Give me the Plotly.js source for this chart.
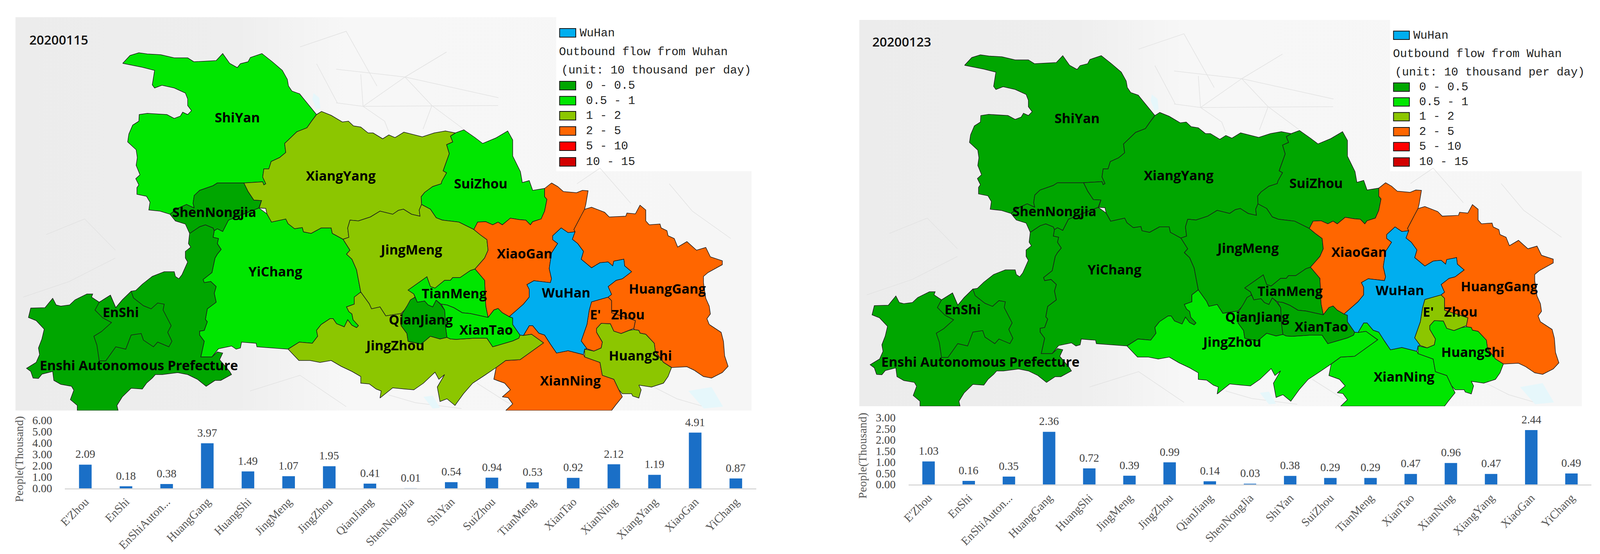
<!DOCTYPE html>
<html>
<head>
<meta charset="utf-8">
<script src="https://cdn.plot.ly/plotly-3.0.1.min.js"></script>
<style>html,body{margin:0;padding:0;background:#fff;overflow:hidden}</style>
</head>
<body>
<div id="chart"></div>
<script>
// bar values, people (thousand) per city
var barNames = ["E'Zhou", "EnShi", "EnShiAuton...", "HuangGang", "HuangShi", "JingMeng", "JingZhou", "QianJiang",
    "ShenNongJia", "ShiYan", "SuiZhou", "TianMeng", "XianTao", "XianNing", "XiangYang", "XiaoGan", "YiChang"];
var flow0115 = [2.09, 0.18, 0.38, 3.97, 1.49, 1.07, 1.95, 0.41, 0.01, 0.54, 0.94, 0.53, 0.92, 2.12, 1.19, 4.91, 0.87];
var flow0123 = [1.03, 0.16, 0.35, 2.36, 0.72, 0.39, 0.99, 0.14, 0.03, 0.38, 0.29, 0.29, 0.47, 0.96, 0.47, 2.44, 0.49];

// flow classes of the map legend
var classNames = ["0 - 0.5", "0.5 - 1", "1 - 2", "2 - 5", "5 - 10", "10 - 15"];
var classTops = [0.5, 1, 2, 5, 10, 15];
var classColors = ["#00a600", "#00e600", "#8cc600", "#ff6600", "#ff0000", "#d20000"];
var wuhanColor = "#00aeef";

// prefecture outlines, in map units
var shiYan = [[319,162],[338,142],[361,135],[383,138],[418,140],[453,148],[488,148],[504,158],[562,155],[579,137],[597,162],[617,173],[625,163],[645,158],[651,147],[681,137],[708,158],[734,180],[747,203],[750,220],[759,233],[779,240],[798,263],[823,293],[810,310],[798,327],[772,337],[740,367],[743,390],[727,403],[705,413],[699,432],[686,432],[683,453],[691,470],[686,473],[683,465],[634,468],[565,468],[554,475],[519,487],[505,500],[502,520],[505,532],[485,523],[462,533],[442,548],[416,540],[387,537],[390,517],[381,502],[356,497],[356,480],[361,473],[353,457],[364,447],[354,423],[357,403],[354,383],[332,363],[335,343],[345,320],[361,310],[362,293],[383,290],[434,293],[453,303],[469,297],[475,287],[488,293],[498,283],[488,270],[488,253],[482,238],[453,225],[421,218],[402,225],[396,217],[402,180],[370,172]];
var xiangYang = [[823,293],[836,285],[861,295],[890,312],[906,310],[919,322],[938,325],[957,340],[970,340],[995,355],[1011,345],[1027,352],[1050,338],[1098,350],[1129,340],[1158,335],[1184,340],[1171,348],[1177,363],[1161,370],[1168,393],[1152,437],[1161,442],[1149,463],[1147,470],[1125,477],[1104,492],[1095,503],[1096,523],[1090,537],[1092,553],[1070,548],[1049,535],[1036,538],[1021,548],[988,540],[963,555],[932,565],[910,563],[904,583],[907,607],[892,612],[864,597],[861,583],[835,583],[809,597],[789,593],[786,582],[766,585],[749,572],[743,560],[706,568],[694,547],[691,533],[674,532],[680,513],[660,512],[645,490],[634,468],[683,465],[686,473],[691,470],[683,453],[686,432],[699,432],[705,413],[727,403],[743,390],[740,367],[772,337],[798,327],[810,310]];
var suiZhou = [[1096,523],[1095,503],[1104,492],[1125,477],[1147,470],[1149,463],[1161,442],[1152,437],[1168,393],[1161,370],[1177,363],[1171,348],[1184,340],[1206,332],[1235,352],[1255,367],[1289,353],[1320,335],[1333,358],[1333,399],[1353,439],[1358,467],[1376,462],[1385,487],[1416,482],[1416,503],[1422,510],[1416,540],[1407,560],[1385,567],[1379,575],[1367,563],[1352,562],[1327,558],[1306,575],[1295,568],[1281,575],[1263,567],[1242,568],[1232,587],[1193,568],[1150,563],[1134,557],[1119,535]];
var shenNongjia = [[634,468],[565,468],[554,475],[519,487],[505,500],[502,520],[505,532],[485,523],[462,533],[442,548],[456,565],[482,573],[493,597],[519,580],[534,575],[554,583],[557,590],[565,585],[579,592],[594,563],[634,547],[673,532],[680,513],[660,512],[645,490]];
var yiChang = [[594,563],[634,547],[673,532],[694,547],[706,568],[743,560],[749,572],[766,585],[786,582],[789,593],[809,597],[835,583],[861,583],[864,597],[892,612],[910,640],[901,650],[915,663],[927,690],[938,747],[921,760],[921,778],[901,785],[907,797],[915,803],[918,818],[932,833],[927,838],[915,832],[904,818],[895,836],[875,828],[866,815],[858,815],[835,830],[823,845],[826,860],[812,878],[778,875],[749,893],[668,887],[666,878],[628,875],[625,890],[614,893],[602,885],[568,892],[551,913],[522,913],[525,900],[531,873],[519,857],[519,847],[531,845],[539,823],[534,817],[539,790],[562,773],[557,750],[562,733],[548,720],[531,723],[528,715],[551,697],[559,660],[565,650],[575,638],[565,623],[568,610],[554,607],[557,590],[565,585],[579,592]];
var enshiPref = [[493,597],[519,580],[534,575],[554,583],[557,590],[554,607],[568,610],[565,623],[575,638],[565,650],[559,660],[551,697],[528,715],[531,723],[548,720],[562,733],[557,750],[562,773],[539,790],[534,817],[539,823],[531,845],[519,847],[519,857],[531,873],[525,900],[522,913],[551,913],[565,900],[579,903],[571,920],[597,950],[602,958],[574,973],[559,973],[536,988],[513,970],[488,958],[462,953],[422,958],[404,958],[396,967],[381,980],[370,995],[341,993],[318,1015],[304,1037],[307,1050],[201,1050],[201,1037],[183,1022],[192,998],[186,988],[158,983],[140,973],[137,950],[109,957],[100,968],[86,967],[80,950],[69,942],[94,927],[103,907],[100,890],[109,867],[115,842],[94,820],[74,812],[80,788],[117,787],[129,772],[137,763],[146,780],[158,783],[181,780],[195,767],[226,752],[241,752],[238,760],[258,773],[287,755],[301,787],[318,767],[341,745],[353,743],[370,727],[396,707],[427,695],[442,695],[453,695],[456,707],[465,713],[473,703],[488,670],[482,660],[482,643],[496,632],[490,623]];
var enShi = [[258,773],[247,793],[267,813],[290,825],[264,848],[244,860],[252,883],[258,923],[275,923],[301,887],[327,893],[341,857],[367,853],[373,870],[399,887],[410,875],[439,887],[447,873],[436,850],[445,833],[424,793],[427,778],[410,775],[393,790],[373,782],[347,762],[341,745],[318,767],[301,787],[287,755]];
var jingMeng = [[1096,523],[1119,535],[1134,557],[1150,563],[1193,568],[1232,587],[1248,600],[1266,613],[1269,640],[1260,660],[1235,688],[1223,692],[1196,710],[1177,710],[1171,717],[1156,717],[1131,737],[1119,733],[1110,708],[1061,742],[1076,752],[1079,760],[1061,783],[1043,802],[1003,808],[988,785],[966,790],[960,777],[938,747],[927,690],[915,663],[901,650],[910,640],[892,612],[907,607],[904,583],[910,563],[932,565],[963,555],[988,540],[1021,548],[1036,538],[1049,535],[1070,548],[1092,553],[1090,537]];
var jingZhou = [[749,893],[777,922],[806,922],[832,927],[861,922],[887,937],[915,950],[938,963],[938,980],[960,982],[978,995],[991,1000],[988,1018],[1021,992],[1052,995],[1076,997],[1101,980],[1131,952],[1141,970],[1156,958],[1137,990],[1144,1027],[1162,1020],[1183,1037],[1205,1007],[1229,980],[1260,960],[1290,940],[1315,922],[1352,920],[1413,877],[1382,855],[1361,858],[1352,857],[1349,865],[1333,872],[1281,887],[1266,865],[1232,865],[1186,868],[1171,867],[1162,863],[1144,867],[1119,860],[1095,880],[1061,873],[1058,853],[1043,833],[1046,802],[1043,802],[1003,808],[988,785],[966,790],[960,777],[938,747],[921,760],[921,778],[901,785],[907,797],[915,803],[918,818],[932,833],[927,838],[915,832],[904,818],[895,836],[875,828],[866,815],[858,815],[835,830],[823,845],[826,860],[812,878],[778,875]];
var qianJiang = [[1079,760],[1067,767],[1058,783],[1046,802],[1043,833],[1058,853],[1061,873],[1095,880],[1119,860],[1144,867],[1162,863],[1159,840],[1156,793],[1144,777],[1134,768],[1125,785],[1113,780],[1104,770],[1085,773]];
var tianMen = [[1061,742],[1110,708],[1119,733],[1131,737],[1156,717],[1171,717],[1177,710],[1196,710],[1223,692],[1235,688],[1260,717],[1263,783],[1269,812],[1223,802],[1202,800],[1180,787],[1162,780],[1147,778],[1134,768],[1125,785],[1113,780],[1104,770],[1085,773],[1079,760],[1076,752]];
var xianTao = [[1147,778],[1162,780],[1180,787],[1202,800],[1223,802],[1269,812],[1284,793],[1295,789],[1306,800],[1324,810],[1333,813],[1333,830],[1352,857],[1349,865],[1333,872],[1281,887],[1266,865],[1232,865],[1186,868],[1171,867],[1162,863],[1159,840],[1156,793]];
var xiaoGan = [[1434,468],[1450,477],[1465,490],[1499,493],[1514,487],[1529,488],[1523,523],[1520,535],[1508,557],[1492,587],[1495,593],[1477,595],[1459,583],[1437,603],[1437,613],[1450,623],[1434,647],[1428,687],[1434,713],[1431,723],[1388,718],[1370,728],[1376,740],[1376,760],[1361,778],[1324,810],[1306,800],[1295,789],[1284,793],[1269,812],[1263,783],[1260,717],[1235,688],[1260,660],[1269,640],[1266,613],[1248,600],[1232,587],[1242,568],[1263,567],[1281,575],[1295,568],[1306,575],[1327,558],[1352,562],[1367,563],[1379,575],[1385,567],[1407,560],[1416,540],[1422,510],[1416,503],[1416,482]];
var huangGang = [[1514,537],[1538,530],[1572,543],[1584,555],[1627,553],[1630,545],[1652,547],[1664,525],[1679,537],[1679,565],[1688,575],[1716,573],[1719,583],[1734,590],[1737,603],[1753,610],[1762,632],[1786,618],[1811,640],[1835,633],[1847,657],[1878,667],[1878,677],[1841,697],[1829,707],[1829,723],[1835,763],[1844,783],[1847,803],[1838,815],[1844,830],[1875,850],[1881,873],[1884,910],[1893,937],[1878,953],[1850,967],[1829,963],[1805,947],[1786,938],[1746,940],[1725,927],[1704,900],[1701,878],[1679,855],[1664,852],[1661,845],[1648,843],[1648,840],[1652,820],[1590,800],[1590,769],[1581,760],[1590,753],[1581,733],[1602,717],[1618,713],[1642,695],[1624,680],[1622,663],[1596,668],[1593,680],[1581,670],[1560,672],[1538,685],[1511,663],[1517,643],[1502,623],[1488,612],[1495,593],[1492,587],[1508,557]];
var eZhou = [[1581,760],[1538,772],[1532,793],[1526,830],[1511,872],[1526,892],[1544,898],[1563,890],[1566,875],[1551,850],[1551,840],[1563,827],[1587,828],[1596,847],[1615,853],[1636,845],[1648,840],[1652,820],[1590,800],[1590,769]];
var huangShi = [[1563,827],[1587,828],[1596,847],[1615,853],[1636,845],[1648,843],[1661,845],[1664,852],[1679,855],[1701,878],[1704,900],[1725,927],[1746,940],[1737,963],[1725,980],[1694,990],[1661,985],[1667,997],[1661,1018],[1645,1013],[1642,1007],[1618,1007],[1609,997],[1596,970],[1566,960],[1560,927],[1520,913],[1520,893],[1544,898],[1563,890],[1566,875],[1551,850],[1551,840]];
var xianNing = [[1376,833],[1385,833],[1401,852],[1416,857],[1431,880],[1447,903],[1477,897],[1517,907],[1520,913],[1560,927],[1566,960],[1596,970],[1609,997],[1618,1015],[1600,1037],[1590,1050],[1315,1050],[1333,1033],[1321,1017],[1306,1015],[1327,997],[1312,980],[1284,970],[1290,940],[1315,922],[1352,920],[1413,877],[1382,855],[1361,858]];
var wuHan = [[1459,583],[1477,595],[1495,593],[1488,612],[1502,623],[1517,643],[1511,663],[1538,685],[1560,672],[1581,670],[1593,680],[1596,668],[1622,663],[1624,680],[1642,695],[1618,713],[1602,717],[1581,733],[1590,753],[1581,760],[1538,772],[1532,793],[1526,830],[1511,872],[1526,892],[1520,893],[1517,907],[1477,897],[1447,903],[1431,880],[1416,857],[1401,852],[1385,833],[1376,833],[1361,858],[1352,857],[1333,830],[1333,813],[1324,810],[1361,778],[1376,760],[1376,740],[1370,728],[1388,718],[1431,723],[1434,713],[1428,687],[1434,647],[1450,623],[1437,613],[1437,603]];

// painted in this order; index points into the bar arrays, -1 is Wuhan itself
var mapRegions = [
    [shiYan, 9], [suiZhou, 10], [yiChang, 16], [enshiPref, 2], [enShi, 1], [xiangYang, 14], [shenNongjia, 8],
    [jingMeng, 5], [huangGang, 3], [xiaoGan, 15], [xianNing, 13], [huangShi, 4], [jingZhou, 6], [tianMen, 11],
    [xianTao, 12], [qianJiang, 7], [eZhou, 0], [wuHan, -1]
];

// names printed on the map
var placeNames = ["ShiYan", "XiangYang", "SuiZhou", "ShenNongjia", "YiChang", "JingMeng", "XiaoGan", "TianMeng", "WuHan", "HuangGang",
    "E'\u00a0\u00a0\u00a0Zhou", "QianJiang", "XianTao", "JingZhou", "HuangShi", "XianNing", "EnShi", "Enshi Autonomous Prefecture"];
var placeX = [617, 886, 1250, 557, 716, 1070, 1364, 1181, 1472, 1735, 1605, 1094, 1264, 1028, 1665, 1483, 314, 361];
var placeY = [304, 453, 473, 546, 698, 642, 652, 754, 752, 742, 808, 821, 847, 887, 913, 977, 802, 938];

// faint roads and lakes of the base map
var roadX = [1161,1053,1123,null,944,1295,null,874,1053,null,874,944,null,823,877,null,938,944,null,1053,944,null,1123,1205,null,944,1000,1010,null,1053,1296,null,1123,1100,null,1500,1560,1640,null,1740,1800,1900,null,1010,1080,1200,null,1240,1320,1400,null,1700,1760,1830,null,650,780,900,null,120,220,300,null,60,180,300,null,780,900,980];
var roadY = [133,197,270,null,272,270,null,177,197,null,263,272,null,163,263,null,190,272,null,197,272,null,270,330,null,272,310,335,null,197,250,null,270,330,null,470,430,520,null,470,540,610,null,1010,1030,1045,null,980,1030,1045,null,990,1020,1040,null,1000,960,1040,null,600,560,640,null,760,720,660,null,120,80,220];
var lakeX = [[815,830,833,822,812], [1101,1125,1144,1125], [1790,1850,1880,1830]];
var lakeY = [[238,250,277,280,255], [1015,1012,1043,1045], [1000,990,1040,1045]];

var serif = "Liberation Serif, serif";
var mono = "Liberation Mono, monospace";
var W = 4160, H = 1417;
function xDom(a, b) { return [a / W, b / W]; }
function yDom(top, bottom) { return [1 - bottom / H, 1 - top / H]; }
function xs(pts) { return pts.map(function (p) { return p[0]; }); }
function ys(pts) { return pts.map(function (p) { return p[1]; }); }

function flowColor(v) {
    for (var i = 0; i < classTops.length; i++) {
        if (v <= classTops[i]) return classColors[i];
    }
    return classColors[classColors.length - 1];
}

var traces = [], shapes = [], annotations = [];

function addMap(xa, ya, flow, dateLabel) {
    // base map, with the white cut-out behind the legend
    traces.push({
        x: [40, 1446, 1446, 1954, 1954, 40, 40], y: [44, 44, 438, 438, 1050, 1050, 44],
        xaxis: xa, yaxis: ya, mode: "lines", line: { width: 0 }, fill: "toself", hoverinfo: "skip",
        fillgradient: { type: "horizontal", colorscale: [[0, "#ececec"], [0.3, "#eeeeee"], [0.45, "#f7f7f7"], [1, "#f6f6f6"]] }
    });
    traces.push({ x: roadX, y: roadY, xaxis: xa, yaxis: ya, mode: "lines", hoverinfo: "skip",
        line: { color: "#e2e2e2", width: 1.5 } });
    lakeX.forEach(function (lx, i) {
        traces.push({ x: lx, y: lakeY[i], xaxis: xa, yaxis: ya, mode: "lines", line: { width: 0 }, fill: "toself",
            fillcolor: "#e6f7fb", hoverinfo: "skip" });
    });

    mapRegions.forEach(function (r) {
        var pts = r[0].concat([r[0][0]]);
        traces.push({
            x: xs(pts), y: ys(pts), xaxis: xa, yaxis: ya, mode: "lines", fill: "toself",
            fillcolor: r[1] < 0 ? wuhanColor : flowColor(flow[r[1]]),
            line: { color: "#1c1c1c", width: 1.5 }, hoverinfo: "skip"
        });
    });

    traces.push({
        x: placeX, y: placeY, text: placeNames, xaxis: xa, yaxis: ya, mode: "text", cliponaxis: false, hoverinfo: "skip",
        textposition: "middle center", textfont: { family: "Open Sans, sans-serif", size: 34, weight: 700, color: "#000000" }
    });

    annotations.push({ xref: xa, yref: ya, x: 153, y: 101, text: dateLabel, showarrow: false,
        font: { family: "Open Sans, sans-serif", size: 33, weight: 600, color: "#111111" } });

    // legend of the map
    function swatch(yc, color) {
        shapes.push({ type: "rect", xref: xa, yref: ya, x0: 1455, x1: 1497, y0: yc - 11, y1: yc + 11,
            fillcolor: color, line: { color: "#111111", width: 2 } });
    }
    function legendText(x, y, text) {
        annotations.push({ xref: xa, yref: ya, x: x, y: y, text: text, showarrow: false, xanchor: "left",
            font: { family: mono, size: 30, color: "#222222" } });
    }
    swatch(84, wuhanColor);
    legendText(1505, 85, "WuHan");
    legendText(1451, 133, "Outbound flow from Wuhan");
    legendText(1457, 180, "(unit: 10 thousand per day)");
    var rowY = [219, 257.5, 296, 335, 374, 414];
    classNames.forEach(function (name, i) {
        swatch(rowY[i], classColors[i]);
        legendText(1521, rowY[i], name);
    });
}

function addBars(xa, ya, values, paperX, paperY) {
    traces.push({
        type: "bar", x: barNames, y: values, xaxis: xa, yaxis: ya, width: 0.31,
        marker: { color: "#1a6fc7" }, hoverinfo: "skip"
    });
    values.forEach(function (v, i) {
        annotations.push({ xref: xa, yref: ya, x: barNames[i], y: v, yshift: 27, text: v.toFixed(2), showarrow: false,
            font: { family: serif, size: 29, color: "#404040" } });
    });
    annotations.push({ xref: "paper", yref: "paper", x: paperX / W, y: 1 - paperY / H, text: "People(Thousand)", textangle: -90,
        xanchor: "center", yanchor: "middle", showarrow: false, font: { family: serif, size: 30, color: "#595959" } });
}

addMap("x", "y", flow0115, "20200115");
addMap("x2", "y2", flow0123, "20200123");
addBars("x3", "y3", flow0115, 50, 1174);
addBars("x4", "y4", flow0123, 2243, 1165);

function mapAxisX(dom, anchor) { return { domain: dom, range: [40, 1954], visible: false, fixedrange: true, anchor: anchor }; }
function mapAxisY(dom, anchor) { return { domain: dom, range: [1050, 44], visible: false, fixedrange: true, anchor: anchor }; }
function barAxisX(dom, anchor) {
    return {
        domain: dom, anchor: anchor, type: "category", range: [-0.5, 16.5], tickangle: -45, ticks: "", ticklabelstandoff: 2,
        showline: true, linecolor: "#d9d9d9", linewidth: 3, showgrid: false, zeroline: false, automargin: false,
        tickfont: { family: serif, size: 30, color: "#595959" }
    };
}
function barAxisY(dom, anchor, top, step) {
    return {
        domain: dom, anchor: anchor, range: [0, top], dtick: step, tickformat: ".2f", ticks: "", ticklabelstandoff: 32,
        showline: false, showgrid: false, zeroline: false, automargin: false,
        tickfont: { family: serif, size: 29, color: "#404040" }
    };
}

var layout = {
    width: window.innerWidth, height: H, autosize: false, showlegend: false,
    margin: { l: 0, r: 0, t: 0, b: 0 }, paper_bgcolor: "#ffffff", plot_bgcolor: "rgba(0,0,0,0)",
    barmode: "overlay",
    xaxis: mapAxisX(xDom(40, 1954), "y"), yaxis: mapAxisY(yDom(44, 1050), "x"),
    xaxis2: mapAxisX(xDom(2234, 4113), "y2"), yaxis2: mapAxisY(yDom(51, 1039), "x2"),
    xaxis3: barAxisX(xDom(169, 1966), "y3"), yaxis3: barAxisY(yDom(1075, 1249), "x3", 6, 1),
    xaxis4: barAxisX(xDom(2362, 4138), "y4"), yaxis4: barAxisY(yDom(1068, 1239), "x4", 3, 0.5),
    shapes: shapes, annotations: annotations
};

Plotly.newPlot("chart", traces, layout, { displayModeBar: false, staticPlot: true });
</script>
</body>
</html>
